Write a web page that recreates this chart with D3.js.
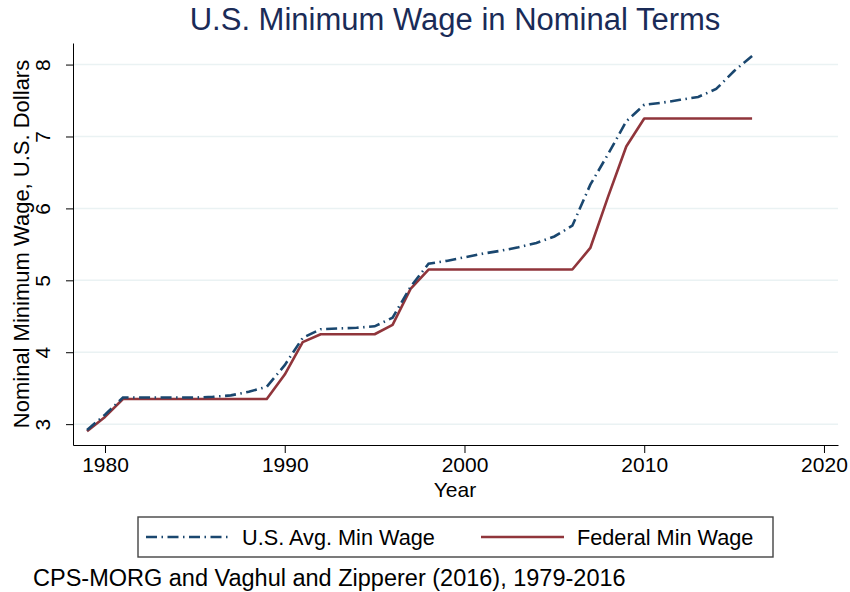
<!DOCTYPE html>
<html>
<head>
<meta charset="utf-8">
<script src="https://cdn.jsdelivr.net/npm/d3@7"></script>
<style>
  body { margin: 0; background: #fff; }
  text { font-family: "Liberation Sans", Arial, sans-serif; }
</style>
</head>
<body>
<div id="chart"></div>
<script>
// data
var years = [1979,1980,1981,1982,1983,1984,1985,1986,1987,1988,1989,1990,1991,1992,1993,1994,1995,1996,1997,1998,
             1999,2000,2001,2002,2003,2004,2005,2006,2007,2008,2009,2010,2011,2012,2013,2014,2015,2016];
var avgMinWage = [2.92,3.13,3.37,3.37,3.37,3.37,3.37,3.38,3.40,3.45,3.52,3.82,4.20,4.32,4.33,4.34,4.36,4.48,4.91,5.23,
                  5.27,5.32,5.37,5.41,5.46,5.52,5.61,5.76,6.33,6.76,7.21,7.44,7.47,7.51,7.55,7.66,7.91,8.12];
var fedMinWage = [2.90,3.10,3.35,3.35,3.35,3.35,3.35,3.35,3.35,3.35,3.35,3.69,4.14,4.25,4.25,4.25,4.25,4.38,4.88,5.15,
                  5.15,5.15,5.15,5.15,5.15,5.15,5.15,5.15,5.45,6.17,6.86,7.25,7.25,7.25,7.25,7.25,7.25,7.25];
var xTicks = [1980, 1990, 2000, 2010, 2020];
var yTicks = [3, 4, 5, 6, 7, 8];
var seriesNames = ["U.S. Avg. Min Wage", "Federal Min Wage"];

var W = 850, H = 592;
var blue = "#1a476f", red = "#90353b";

var svg = d3.select("#chart").append("svg")
  .attr("width", W).attr("height", H);

var x = d3.scaleLinear().domain([1978.22, 2020.78]).range([73, 838]);
var y = d3.scaleLinear().domain([2.71, 8.30]).range([445, 43]);

// gridlines
svg.append("g").selectAll("line")
  .data(yTicks).enter().append("line")
  .attr("x1", 73).attr("x2", 838)
  .attr("y1", function (d) { return y(d); })
  .attr("y2", function (d) { return y(d); })
  .attr("stroke", "#eaf2f3").attr("stroke-width", 1.5);

// X axis
var xAxis = svg.append("g")
  .attr("transform", "translate(0,445)")
  .call(d3.axisBottom(x).tickValues(xTicks).tickFormat(d3.format("d")).tickSize(8).tickSizeOuter(0));
xAxis.select(".domain").attr("stroke", "#000");
xAxis.selectAll(".tick line").attr("stroke", "#000");
xAxis.selectAll("text")
  .attr("y", 12).attr("dy", "0.71em")
  .style("font-size", "21px").attr("fill", "#000");

// Y axis, labels turned on their side
var yAxis = svg.append("g")
  .attr("transform", "translate(73,0)")
  .call(d3.axisLeft(y).tickValues(yTicks).tickFormat(d3.format("d")).tickSize(7).tickSizeOuter(0));
yAxis.select(".domain").attr("stroke", "#000");
yAxis.selectAll(".tick line").attr("stroke", "#000");
yAxis.selectAll("text")
  .attr("x", 0).attr("y", 0).attr("dy", 0)
  .attr("transform", "translate(-23,0)rotate(-90)")
  .style("text-anchor", "middle")
  .style("font-size", "21px").attr("fill", "#000");

// lines
var line = function (vals) {
  return d3.line()
    .x(function (d, i) { return x(years[i]); })
    .y(function (d) { return y(d); })(vals);
};

svg.append("path")
  .attr("d", line(fedMinWage))
  .attr("fill", "none").attr("stroke", red).attr("stroke-width", 2.6)
  .attr("stroke-linejoin", "round");

svg.append("path")
  .attr("d", line(avgMinWage))
  .attr("fill", "none").attr("stroke", blue).attr("stroke-width", 2.6)
  .attr("stroke-dasharray", "11,4.5,1.5,4.5");

// title and axis titles
svg.append("text")
  .attr("x", 455).attr("y", 30)
  .attr("text-anchor", "middle")
  .style("font-size", "31px").attr("fill", "#1a2b57")
  .text("U.S. Minimum Wage in Nominal Terms");

svg.append("text")
  .attr("x", 455).attr("y", 497)
  .attr("text-anchor", "middle")
  .style("font-size", "21px").attr("fill", "#000")
  .text("Year");

svg.append("text")
  .attr("transform", "translate(29,244)rotate(-90)")
  .attr("text-anchor", "middle")
  .style("font-size", "22px").attr("fill", "#000")
  .text("Nominal Minimum Wage, U.S. Dollars");

// legend
var legend = svg.append("g");
legend.append("rect")
  .attr("x", 138).attr("y", 517).attr("width", 635).attr("height", 40)
  .attr("fill", "#fff").attr("stroke", "#444").attr("stroke-width", 1.4);

var legendItems = [
  { name: seriesNames[0], color: blue, dash: "11,4.5,1.5,4.5", x: 146 },
  { name: seriesNames[1], color: red, dash: null, x: 481 }
];
legendItems.forEach(function (d) {
  legend.append("line")
    .attr("x1", d.x).attr("x2", d.x + 83)
    .attr("y1", 537).attr("y2", 537)
    .attr("stroke", d.color).attr("stroke-width", 2.6)
    .attr("stroke-dasharray", d.dash);
  legend.append("text")
    .attr("x", d.x + 96).attr("y", 545)
    .style("font-size", "21.7px").attr("fill", "#000")
    .text(d.name);
});

// note
svg.append("text")
  .attr("x", 33).attr("y", 586)
  .style("font-size", "23.5px").attr("fill", "#000")
  .text("CPS-MORG and Vaghul and Zipperer (2016), 1979-2016");
</script>
</body>
</html>
